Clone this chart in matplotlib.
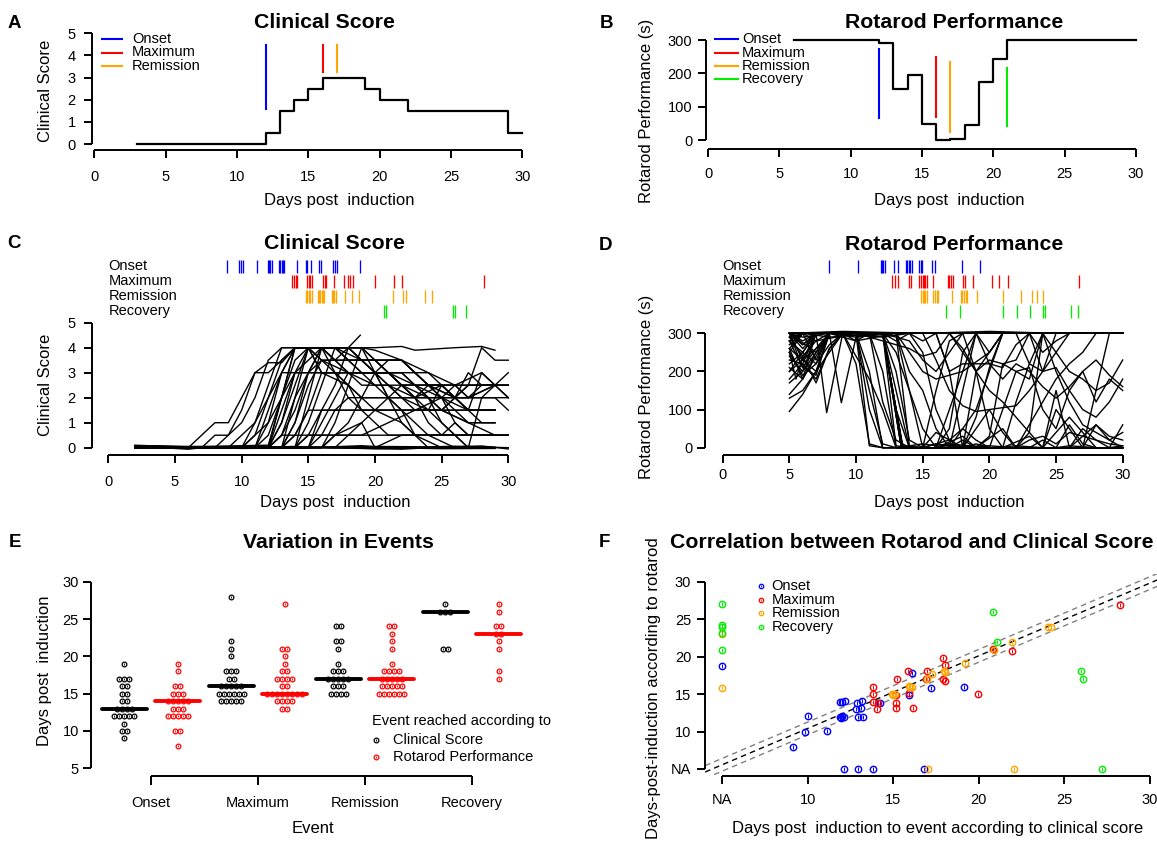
import numpy as np
import matplotlib
matplotlib.use("Agg")
import matplotlib.pyplot as plt
from matplotlib.lines import Line2D
from collections import Counter

plt.rcParams['font.family'] = ['Liberation Sans', 'DejaVu Sans']

# ======================= DATA =======================
event_names = ['Onset', 'Maximum', 'Remission', 'Recovery']
event_colors = ['#0000FF', '#FF0000', '#FFA500', '#00EE00']

# Panel A : single mouse clinical score
a_days = list(range(3, 31))
a_score = [0, 0, 0, 0, 0, 0, 0, 0, 0, 0.5, 1.5, 2, 2.5, 3, 3, 3, 2.5, 2, 2,
           1.5, 1.5, 1.5, 1.5, 1.5, 1.5, 1.5, 0.5, 0.5]
a_event_day = [12, 16, 17]
a_event_lo = [1.6, 3.24, 3.24]
a_event_hi = [4.47, 4.47, 4.47]

# Panel B : single mouse rotarod
b_days = list(range(6, 31))
b_perf = [300, 300, 300, 300, 300, 300, 292, 152, 195, 47, 0, 4, 46, 173, 242,
          300, 300, 300, 300, 300, 300, 300, 300, 300, 300]
b_event_day = [12, 16, 17, 21]
b_event_lo = [65, 70, 25, 43]
b_event_hi = [272, 248, 233, 217]

# Panel C : all mice clinical score (day, score) vertices
clin_traj = [
    [(2, .05), (6, 0), (8, 1), (9, 1), (10, 2), (11, 3), (12, 3.4), (13, 3.4), (14, 4), (19, 4), (20, 3.9), (22, 3.5), (24, 3), (26, 2.5), (28, 2.5), (30, 2.5)],
    [(2, .08), (8, 0), (9, .5), (10, 1.5), (11, 3), (12, 3), (13, 3.5), (14, 4), (17, 4), (19, 3), (21, 3), (23, 2.5), (25, 2), (27, 1.5), (29, 1.5)],
    [(2, 0), (10, 0), (11, 1), (12, 2.5), (13, 4), (20, 4), (22, 4.05), (23, 3.9), (26, 4), (28, 4.05), (29, 3.9)],
    [(2, .05), (10, 0), (11, .5), (12, 2), (13, 3.5), (14, 4), (18, 4), (18.9, 4.5)],
    [(2, .03), (11, 0), (12, 1), (13, 3), (14, 4), (16, 4), (17, 3.5), (18, 3), (21, 3), (22, 2.5), (23, 2), (25, 2), (26, 1.5), (29, 1.5)],
    [(2, 0), (11, 0), (12, .5), (13, 2), (14, 3.5), (15, 4), (17, 4), (19, 3.5), (22, 3.5), (23, 3), (24, 2.5), (26, 2.5), (28, 3), (29, 2.5)],
    [(2, .05), (12, 0), (13, 1), (14, 3), (15, 4), (16, 4), (17, 3), (19, 2), (20, 1.5), (22, 1), (23, .5), (25, 0), (29, 0)],
    [(2, 0), (12, .1), (13, 2), (14, 4), (15, 4), (16, 3), (18, 3), (22, 3), (24, 2), (25, 1.5), (27, 1), (29, .5)],
    [(2, .05), (12, 0), (13, .5), (14, 2), (15, 3), (21, 3), (22, 2.5), (30, 2.5)],
    [(2, 0), (13, 0), (14, 1), (15, 3), (16, 3.5), (19, 3.5), (20, 3), (21, 2.5), (23, 2), (27, 2), (29, 2.5), (30, 2)],
    [(2, .03), (13, 0), (14, .5), (15, 1.5), (29, 1.5)],
    [(2, 0), (12, 0), (13, .5), (30, .5)],
    [(2, .05), (14, 0), (15, 1), (16, 2.5), (17, 4), (19, 4), (20, 3.5), (21, 3), (22, 2.5), (24, 2), (25, 1), (26, .5), (27, 0), (29, 0)],
    [(2, 0), (14, 0), (15, 2), (16, 4), (18, 4), (20, 3), (21, 2), (22, 1), (23, .5), (24, 0), (29, 0)],
    [(2, .08), (13, 0), (14, .5), (15, 1.5), (16, 3), (17, 3), (18, 2), (19, 1.5), (20, 1), (21, .5), (30, .5)],
    [(2, 0), (15, 0), (16, 1), (17, 2), (18, 3), (20, 3), (21, 3.5), (22, 3.5), (23, 3), (24, 2.5), (26, 2), (27, 2.5), (30, 2.5)],
    [(2, .05), (15, 0), (16, .5), (17, 1.5), (25, 1.5), (26, 2), (27, 1.5), (29, 1.5)],
    [(2, 0), (16, 0), (17, 1), (18, 2.5), (19, 4), (20, 3.5), (21, 3), (23, 2), (24, 1), (25, .5), (29, .5)],
    [(2, .03), (14, 0), (15, .5), (19, .5), (21, 1), (23, 1.5), (25, 2), (26, 2.5), (27, 2), (28, 2.5), (30, 2.5)],
    [(2, 0), (16, 0), (17, .5), (19, 1), (20, 1.5), (21, 2), (22, 2.5), (23, 2.5), (24, 2), (25, 1.5), (27, 1), (29, 1)],
    [(2, .05), (12, 0), (13, .5), (14, 1.5), (15, 3), (16, 4), (18, 4), (19, 3.5), (22, 3.5), (23, 3), (24, 3), (25, 2.5), (26, 2.5), (27, 2), (29, 2.5), (30, 3)],
    [(2, 0), (17, 0), (18, .5), (19, 1), (20, 0), (29, 0)],
    [(2, .05), (20, 0), (22, .5), (24, .5), (26, 0), (29, 0)],
    [(2, 0), (12, 0), (13, 2), (14, 3), (15, 3), (16, 4), (17, 3.5), (22, 3.5), (23, 3), (24, 2.5), (25, 2), (26, 2), (27, 2.5), (28, 4), (29, 3.5), (30, 3.5)],
    [(2, .03), (11, 0), (12, 1.5), (13, 3), (14, 3), (15, 3.5), (16, 4), (17, 4), (18, 3.5), (19, 3), (20, 2.5), (21, 2), (22, 1.5), (23, .5), (30, .5)],
    [(2, 0), (13, 0), (14, 2), (15, 4), (16, 3.5), (17, 3), (18, 2.5), (19, 1.5), (26, 1.5), (27, 1), (29, 1)],
    [(2, .05), (12, 0), (13, 1.5), (14, 3), (23, 3), (24, 2.5), (25, 2.5), (26, 2), (27, 3), (28, 2.5), (29, 2.5), (30, 2)],
    [(2, 0), (14, 0), (15, .5), (16, 1.5), (17, 1.5), (18, 2), (22, 2), (24, 1.5), (25, 1), (26, .5), (27, 0), (28, 2), (29, 2.5)],
    [(2, .05), (10, 0), (11, .5), (12, 1), (13, 2), (14, 4), (15, 4), (16, 3.5), (18, 3), (20, 2.5), (24, 2.5), (26, 2), (27, 1.5), (29, 1.5)],
    [(2, .08), (7, 0), (8, .5), (9, .5), (10, 1), (11, 2), (12, 3.5), (13, 4), (15, 4), (16, 3), (18, 2.5), (19, 2), (21, 2), (23, 2), (25, 2.5), (26, 2), (28, 2), (30, 2)],
    [(2, 0), (13, 0), (14, 1), (15, 2.5), (16, 3.5), (17, 3.5), (18, 4), (19, 3.5), (20, 3), (21, 2.5), (22, 2), (23, 2), (24, 2.5), (25, 2), (26, 1), (27, .5), (29, .5)],
    [(2, .05), (12, 0), (13, 1), (14, 2.5), (15, 4), (16, 4), (17, 3.5), (18, 3), (19, 2.5), (21, 2.5), (22, 2), (23, 1.5), (24, 1.5), (25, 2.5), (26, 2), (27, 1.5), (28, 3), (29, 2.5)],
    [(2, 0), (15, 0), (16, 1.5), (17, 2.5), (18, 4), (19, 4), (20, 3), (21, 2), (22, 1.5), (23, 1), (24, .5), (25, .5), (26, 1), (27, .5), (30, .5)],
    [(2, .03), (9, 0), (10, .5), (11, 1), (12, 2), (13, 3), (14, 4), (17, 4), (18, 3.5), (20, 3.5), (21, 3), (22, 3), (23, 2.5), (25, 2.5), (26, 2), (29, 2), (30, 1.5)],
    [(2, 0), (16, 0), (17, .5), (18, 1), (19, 2), (20, 3), (21, 3), (22, 2.5), (23, 2), (24, 1.5), (25, 1.5), (26, 2), (27, 1.5), (28, 1), (29, 1)],
    [(2, .1), (3, .08), (5, 0), (8, .02), (12, 0), (16, 0), (20, -.04), (24, 0), (27, .05), (29, 0)],
    [(2, .05), (4, 0), (6, -.06), (7, 0), (12, .03), (18, 0), (22, 0), (26, .06), (30, 0)],
    [(2, 0), (6, .03), (10, -.03), (15, 0), (19, .08), (21, 0), (25, -.04), (29, -.03)],
    [(2, .08), (9, 0), (14, .05), (17, 0), (22, -.06), (24, 0), (28, .07), (30, -.05)],
    [(2, .03), (8, 0), (11, .04), (13, 0), (20, .05), (23, .04), (26, 0), (29, .02)],
]

# Panel D : all mice rotarod (day, seconds) vertices
rot_traj = [
    [(5, 290), (6, 300), (7, 280), (10, 300), (11, 5), (12, 0), (20, 0), (22, 5), (24, 0), (30, 0)],
    [(5, 300), (6, 260), (7, 300), (10, 300), (11, 150), (12, 10), (13, 0), (16, 0), (17, 10), (18, 0), (29, 0), (30, 5)],
    [(5, 240), (6, 200), (7, 300), (13, 300), (14, 5), (15, 0), (16, 40), (17, 20), (18, 0), (25, 0), (26, 5), (28, 0), (30, 0)],
    [(5, 270), (6, 300), (7, 230), (8, 300), (12, 300), (13, 5), (14, 0), (23, 0), (24, 20), (25, 0), (30, 0)],
    [(5, 300), (12, 300), (13.5, 0), (16, 0), (17, 50), (18, 250), (19, 300), (30, 300)],
    [(5, 280), (6, 300), (8, 290), (12, 300), (13.5, 0), (18, 0), (19, 80), (20, 210), (21, 300), (30, 300)],
    [(5, 300), (12, 300), (13.5, 5), (15, 0), (19, 0), (20, 30), (21, 220), (22, 230), (23, 300), (30, 300)],
    [(5, 220), (6, 250), (7, 300), (12, 300), (13.5, 0), (22, 0), (23, 40), (24, 300), (30, 300)],
    [(5, 300), (6, 270), (7, 300), (12, 300), (14, 0), (24, 0), (25, 150), (26, 0), (30, 0)],
    [(5, 95), (6, 140), (7, 200), (8, 300), (12, 300), (13, 250), (14, 150), (15, 50), (16, 0), (20, 5), (22, 0), (30, 0)],
    [(5, 200), (6, 230), (7, 260), (8, 300), (10, 300), (12, 280), (14, 260), (15, 240), (16, 250), (17, 300), (30, 300)],
    [(5, 300), (6, 280), (7, 300), (7.8, 92), (9, 300), (30, 300)],
    [(5, 250), (6, 190), (7, 220), (8, 300), (8.9, 118), (10, 290), (13, 300), (14, 200), (15, 150), (16, 50), (17, 0), (19, 0), (21, 50), (22, 0), (25, 0), (26, 60), (27, 10), (28, 0), (30, 0)],
    [(5, 170), (6, 200), (7, 250), (8, 300), (10, 280), (11, 300), (15, 300), (16, 230), (17, 150), (18, 110), (19, 95), (20, 100), (22, 110), (23, 150), (24, 200), (25, 300), (30, 300)],
    [(5, 300), (16, 300), (17, 200), (18, 220), (20, 220), (21, 210), (22, 270), (23, 300), (24, 200), (25, 210), (26, 150), (27, 100), (28, 80), (29, 120), (30, 180)],
    [(5, 290), (6, 240), (7, 280), (8, 300), (14, 300), (15, 250), (16, 100), (17, 20), (18, 0), (20, 0), (21, 100), (22, 200), (23, 180), (24, 300), (30, 300)],
    [(5, 300), (12, 300), (13, 200), (14, 20), (15, 0), (22, 0), (23, 20), (24, 30), (25, 10), (26, 40), (27, 30), (28, 20), (29, 10), (30, 5)],
    [(5, 260), (6, 300), (11, 300), (12, 200), (13, 0), (15, 10), (17, 0), (19, 100), (20, 200), (21, 300), (30, 300)],
    [(5, 230), (6, 220), (7, 180), (8, 260), (9, 300), (17, 300), (18, 260), (19, 200), (20, 150), (21, 120), (22, 80), (23, 40), (24, 0), (30, 0)],
    [(5, 300), (6, 290), (8, 300), (12, 290), (14, 300), (24, 300), (25, 250), (26, 200), (27, 180), (28, 150), (29, 170), (30, 230)],
    [(5, 140), (6, 180), (7, 250), (8, 300), (12, 300), (13, 100), (14, 0), (21, 0), (22, 120), (23, 220), (24, 300), (25, 200), (26, 120), (27, 60), (28, 40), (29, 20), (30, 40)],
    [(5, 300), (16, 300), (17, 200), (18, 0), (19, 200), (20, 250), (21, 300), (23, 300), (24, 250), (25, 280), (26, 300), (30, 300)],
    [(5, 130), (6, 150), (7, 200), (8, 300), (9, 300), (10, 220), (11, 10), (12, 0), (15, 0), (16, 10), (18, 0), (20, 100), (21, 40), (22, 0), (24, 0), (25, 100), (26, 50), (27, 0), (30, 0)],
    [(5, 260), (6, 230), (7, 300), (12, 300), (13, 280), (14, 300), (18, 300), (19, 200), (20, 50), (21, 0), (26, 0), (27, 50), (28, 20), (29, 0), (30, 60)],
    [(5, 300), (6, 270), (7, 300), (10, 300), (11, 200), (12, 0), (17, 0), (18, 20), (19, 0), (27, 0), (28, 150), (29, 300), (30, 300)],
    [(5, 250), (6, 300), (12, 300), (13.5, 0), (15, 0), (16, 150), (17, 280), (18, 300), (30, 300)],
    [(5, 300), (9, 305), (15, 300), (20, 305), (25, 300), (30, 300)],
    [(5, 210), (6, 180), (7, 240), (8, 300), (10, 290), (12, 300), (17, 300), (18, 250), (19, 200), (20, 230), (21, 220), (22, 200), (23, 210), (24, 100), (25, 50), (26, 150), (27, 200), (28, 120), (29, 180), (30, 150)],
    [(5, 300), (12, 300), (13.4, 0), (18, 0), (19, 10), (20, 0), (30, 0)],
    [(5, 280), (6, 250), (7, 300), (12, 300), (13.4, 0), (16, 0), (17, 100), (18, 200), (19, 300), (30, 300)],
    [(5, 300), (6, 210), (7, 190), (8, 300), (13, 300), (14, 250), (15, 200), (16, 180), (18, 200), (20, 250), (21, 300), (30, 300)],
    [(5, 180), (6, 220), (7, 300), (11, 300), (12, 120), (13, 20), (14, 0), (21, 0), (23, 30), (24, 0), (27, 0), (28, 60), (29, 20), (30, 0)],
    [(5, 200), (6, 250), (7, 220), (8, 270), (9, 300), (10, 240), (11, 180), (12, 100), (13, 0), (16, 0), (18, 30), (19, 0), (22, 0), (23, 60), (24, 120), (25, 180), (26, 220), (27, 250), (28, 300), (30, 300)],
    [(5, 250), (5.5, 180), (6, 240), (7, 170), (8, 260), (9, 300), (10, 280), (13, 300), (14, 150), (15, 0), (17, 0), (18, 150), (19, 300), (20, 250), (21, 300), (30, 300)],
    [(5, 300), (6, 230), (7, 200), (8, 250), (9, 300), (14, 300), (15, 280), (16, 300), (19, 300), (20, 220), (21, 180), (22, 220), (23, 200), (24, 160), (25, 130), (26, 160), (27, 200), (28, 230), (29, 190), (30, 160)],
    [(5, 280), (6, 210), (7, 260), (8, 300), (10, 300), (11, 100), (12, 0), (16, 0), (17, 10), (20, 0), (26, 0), (27, 30), (28, 60), (29, 30), (30, 20)],
    [(5, 300), (7, 250), (8, 300), (12, 300), (13.4, 0), (15, 0), (17, 20), (18, 50), (19, 20), (20, 0), (24, 0), (25, 40), (26, 80), (27, 40), (28, 0), (30, 0)],
    [(5, 260), (6, 180), (7, 300), (12, 300), (14, 280), (15, 230), (16, 200), (17, 250), (18, 300), (22, 300), (23, 220), (24, 200), (26, 300), (30, 300)],
]

# Rug positions (days) per event
rugC_onset = [8.88, 9.83, 9.95, 10.13, 11.15, 11.96, 12.06, 12.16, 12.26, 12.81, 12.91, 13.0, 13.13, 13.21, 14.18, 14.81, 14.93, 15.18, 15.83, 15.95, 16.88, 17.0, 17.18, 18.88]
rugC_max = [13.8, 13.93, 14.06, 14.18, 14.93, 15.03, 15.13, 15.26, 16.13, 16.26, 16.33, 16.95, 17.7, 18.0, 18.15, 18.33, 20.0, 21.43, 22.06, 28.2]
rugC_rem = [14.83, 14.93, 15.03, 15.13, 15.26, 15.71, 15.81, 15.9, 16.01, 16.13, 16.2, 16.76, 16.86, 16.95, 17.06, 17.76, 18.26, 18.83, 21.34, 22.13, 22.31, 23.76, 24.26]
rugC_rec = [20.68, 20.81, 25.88, 26.01, 26.83]
rugD_onset = [8.0, 10.13, 11.85, 11.95, 12.05, 12.15, 12.83, 13.17, 13.75, 13.85, 13.95, 14.05, 14.18, 14.75, 14.85, 14.95, 15.72, 15.93, 17.95, 19.28]
rugD_max = [12.72, 12.93, 13.13, 13.98, 14.1, 14.75, 14.9, 15.0, 15.1, 15.2, 15.3, 15.8, 16.88, 17.0, 17.13, 17.25, 18.05, 18.2, 18.8, 20.18, 20.75, 21.38, 26.73]
rugD_rem = [14.9, 15.0, 15.1, 15.2, 15.3, 15.8, 15.93, 16.05, 16.17, 17.22, 17.85, 17.97, 18.1, 18.23, 18.35, 19.05, 21.05, 22.38, 23.18, 23.56, 24.05]
rugD_rec = [16.73, 17.8, 21.05, 22.06, 23.05, 24.0, 24.16, 26.1, 26.63]

# Panel E : event days per method
e_clin_onset = [9, 10, 10, 11, 12, 12, 12, 12, 12, 13, 13, 13, 13, 14, 14, 15, 15, 16, 16, 17, 17, 17, 19]
e_rot_onset = [8, 10, 10, 12, 12, 12, 12, 12, 13, 13, 13, 14, 14, 14, 14, 14, 15, 15, 15, 16, 16, 18, 19]
e_clin_max = [14, 14, 14, 14, 14, 15, 15, 15, 15, 15, 15, 16, 16, 16, 16, 16, 17, 17, 18, 18, 18, 20, 21, 22, 28]
e_rot_max = [13, 13, 14, 14, 14, 14, 15, 15, 15, 15, 15, 15, 15, 15, 16, 16, 17, 17, 17, 17, 18, 18, 19, 20, 21, 21, 27]
e_clin_rem = [15, 15, 15, 15, 16, 16, 16, 17, 17, 17, 17, 17, 18, 18, 18, 19, 21, 22, 22, 24, 24]
e_rot_rem = [15, 15, 15, 15, 15, 15, 16, 16, 16, 16, 16, 17, 17, 17, 17, 17, 18, 18, 18, 18, 19, 21, 22, 23, 24, 24]
e_clin_rec = [21, 21, 26, 26, 26, 27]
e_rot_rec = [17, 18, 21, 22, 23, 23, 24, 24, 26, 27]

# Panel F : clinical-score day vs rotarod day (nan = NA)
NA = np.nan
f_onset_clin = [9.15, 9.84, 10.0, 11.1, 11.88, 11.98, 12.18, 11.9, 12.0, 12.1, 11.95, 12.86, 12.84, 12.94, 13.15, 13.09, 13.22, 14.22, 15.92, 16.11, 17.19, 19.1, NA, 12.12, 12.92, 13.81, 16.81]
f_onset_rot = [8.0, 9.92, 12.06, 10.05, 13.94, 13.9, 14.12, 12.0, 12.1, 11.95, 11.8, 13.8, 13.06, 11.93, 14.03, 13.13, 11.93, 13.86, 14.83, 17.82, 15.86, 15.95, 18.8, NA, NA, NA, NA]
f_max_clin = [13.83, 13.8, 13.83, 14.12, 14.03, 15.16, 15.16, 15.16, 15.2, 15.84, 15.92, 16.13, 16.99, 16.91, 17.92, 18.02, 17.92, 18.02, 19.97, 20.85, 21.92, 28.22]
f_max_rot = [15.95, 14.97, 13.94, 13.8, 13.06, 14.83, 13.86, 13.13, 16.98, 18.09, 15.14, 13.13, 18.09, 16.98, 19.83, 18.85, 17.07, 16.71, 15.06, 20.99, 20.76, 26.88]
f_rem_clin = [14.92, 15.0, 15.1, 15.92, 16.1, 16.0, 17.25, 16.95, 17.93, 18.02, 18.0, 19.19, 20.9, 21.96, 24.03, 24.2, NA, NA, 17.05, 22.06]
f_rem_rot = [15.0, 14.9, 15.0, 16.1, 15.95, 16.0, 17.73, 16.98, 18.1, 17.96, 18.0, 19.16, 20.9, 21.97, 23.9, 24.0, 23.0, 15.8, NA, NA]
f_rec_clin = [20.81, 21.08, 25.96, 26.11, NA, NA, NA, NA, NA, 27.2]
f_rec_rot = [25.98, 21.89, 18.09, 17.02, 27.0, 24.2, 23.9, 23.2, 20.9, NA]
f_na_pos = 5
f_fit_slope = 0.97
f_fit_intercept = 0.72
f_fit_band = 0.85

# ======================= FIGURE =======================
W, H = 1157, 841
fig = plt.figure(figsize=(W / 100, H / 100), dpi=100)

TICK = 10.5
LAB = 12
TIT = 15.3


def px_axes(xd, xp, yd, yp, xlim, ylim):
    sx = (xp[1] - xp[0]) / (xd[1] - xd[0])
    sy = (yp[1] - yp[0]) / (yd[1] - yd[0])
    l = xp[0] + (xlim[0] - xd[0]) * sx
    r = xp[0] + (xlim[1] - xd[0]) * sx
    t = yp[0] + (ylim[1] - yd[0]) * sy
    b = yp[0] + (ylim[0] - yd[0]) * sy
    ax = fig.add_axes([l / W, 1 - b / H, (r - l) / W, (b - t) / H])
    ax.set_xlim(xlim)
    ax.set_ylim(ylim)
    ax.patch.set_alpha(0)
    return ax


def r_style(ax, left_at, bottom_at, xb, yb, xt, yt, xtl=None, ytl=None,
            xpad=7, ypad=5, xlen=5.5, ylen=5.8):
    for s in ['top', 'right']:
        ax.spines[s].set_visible(False)
    ax.spines['left'].set_position(('data', left_at))
    ax.spines['bottom'].set_position(('data', bottom_at))
    ax.spines['left'].set_bounds(*yb)
    ax.spines['bottom'].set_bounds(*xb)
    for s in ['left', 'bottom']:
        ax.spines[s].set_linewidth(1.4)
        ax.spines[s].set_capstyle('butt')
    ax.set_xticks(xt)
    ax.set_yticks(yt)
    if xtl is not None:
        ax.set_xticklabels(xtl)
    if ytl is not None:
        ax.set_yticklabels(ytl)
    ax.tick_params(axis='x', direction='out', length=xlen, width=1.4, pad=xpad, labelsize=TICK)
    ax.tick_params(axis='y', direction='out', length=ylen, width=1.4, pad=ypad, labelsize=TICK)


def ftext(x, y, s, **kw):
    kw.setdefault('ha', 'center')
    kw.setdefault('va', 'center')
    fig.text(x / W, 1 - y / H, s, **kw)


def fline(x0, x1, y, **kw):
    fig.add_artist(Line2D([x0 / W, x1 / W], [1 - y / H, 1 - y / H],
                          transform=fig.transFigure, **kw))


def fmark(x, y, color, ms):
    fig.add_artist(Line2D([x / W], [1 - y / H], transform=fig.transFigure, marker='o',
                          ms=ms, mfc='none', mec=color, mew=0.9, ls='none'))
    fig.add_artist(Line2D([x / W], [1 - y / H], transform=fig.transFigure, marker='|',
                          ms=ms * 0.6, mec=color, mew=0.6, ls='none'))


# ---------------- Panel A ----------------
axA = px_axes((0, 30), (94.3, 522.4), (0, 5), (144, 33.3), (-1.5, 31), (-0.6, 5.3))
axA.plot(a_days, a_score, drawstyle='steps-post', color='black', lw=1.6)
for d, lo, hi, c in zip(a_event_day, a_event_lo, a_event_hi, event_colors):
    axA.plot([d, d], [lo, hi], color=c, lw=1.5)
r_style(axA, -0.18, -0.27, (0, 30), (0, 5), range(0, 31, 5), range(0, 6),
        xpad=8.8, ypad=5.7)
ftext(324.6, 23, 'Clinical Score', fontsize=TIT, fontweight='bold')
ftext(14, 23, 'A', fontsize=13.5, fontweight='bold')
ftext(339, 201, 'Days post  induction', fontsize=LAB)
ftext(46, 91, 'Clinical Score', fontsize=LAB, rotation=90)
for i, (nm, c) in enumerate(zip(event_names[:3], event_colors[:3])):
    yy = 39.3 + 13.2 * i
    fline(101.7, 122, yy, color=c, lw=1.5)
    ftext(132, yy, nm, fontsize=TICK, ha='left')

# ---------------- Panel B ----------------
axB = px_axes((0, 30), (708.1, 1135.8), (0, 300), (140, 40), (-1.5, 31), (-40, 315))
axB.plot(b_days, b_perf, drawstyle='steps-post', color='black', lw=1.6)
for d, lo, hi, c in zip(b_event_day, b_event_lo, b_event_hi, event_colors):
    axB.plot([d, d], [lo, hi], color=c, lw=1.5)
r_style(axB, -0.13, -27.9, (0, 30), (0, 300), range(0, 31, 5), range(0, 301, 100),
        xpad=6.9, ypad=4.2)
ftext(954.3, 23, 'Rotarod Performance', fontsize=TIT, fontweight='bold')
ftext(606.7, 23, 'B', fontsize=13.5, fontweight='bold')
ftext(949.3, 201, 'Days post  induction', fontsize=LAB)
ftext(646.2, 110.8, 'Rotarod Performance (s)', fontsize=LAB, rotation=90)
for i, (nm, c) in enumerate(zip(event_names, event_colors)):
    yy = 39.3 + 13.3 * i
    fline(715.4, 738.3, yy, color=c, lw=1.5)
    ftext(742, yy, nm, fontsize=TICK, ha='left')


# ---------------- rug helper ----------------
def rug(xp, rugs, label_x):
    ax = px_axes((0, 30), xp, (0, -3), (266.7, 311.7), (-1.5, 31), (-3.7, 0.7))
    ax.axis('off')
    for i, (vals, c) in enumerate(zip(rugs, event_colors)):
        ax.vlines(vals, -i - 0.45, -i + 0.45, color=c, lw=0.95)
    for i, nm in enumerate(event_names):
        ftext(label_x, 266 + 15 * i, nm, fontsize=TICK, ha='left')


# ---------------- Panel C ----------------
axC = px_axes((0, 30), (108.3, 508.3), (0, 5), (447.7, 322.7), (-1.5, 31), (-0.45, 5.1))
for tr in clin_traj:
    d = [p[0] for p in tr]
    v = [p[1] for p in tr]
    axC.plot(d, v, color='black', lw=1.0)
r_style(axC, -1.245, -0.292, (0, 30), (0, 5), range(0, 31, 5), range(0, 6),
        xpad=9.1, ypad=5.7)
rug((108.3, 508.3), [rugC_onset, rugC_max, rugC_rem, rugC_rec], 108.5)
ftext(334, 244, 'Clinical Score', fontsize=TIT, fontweight='bold')
ftext(13.5, 244, 'C', fontsize=13.5, fontweight='bold')
ftext(335.4, 502.7, 'Days post  induction', fontsize=LAB)
ftext(45.1, 384.7, 'Clinical Score', fontsize=LAB, rotation=90)

# ---------------- Panel D ----------------
axD = px_axes((0, 30), (722.7, 1122.7), (0, 300), (447.7, 333.3), (-1.6, 31), (-25, 312))
for tr in rot_traj:
    d = [p[0] for p in tr]
    v = [p[1] for p in tr]
    axD.plot(d, v, color='black', lw=1.0)
r_style(axD, -1.365, -19.9, (0, 30), (0, 300), range(0, 31, 5), range(0, 301, 100),
        xpad=3.7, ypad=3.0)
rug((722.7, 1122.7), [rugD_onset, rugD_max, rugD_rem, rugD_rec], 722.7)
ftext(954.3, 245, 'Rotarod Performance', fontsize=TIT, fontweight='bold')
ftext(605.8, 245, 'D', fontsize=13.5, fontweight='bold')
ftext(949, 502.7, 'Days post  induction', fontsize=LAB)
ftext(646.2, 387, 'Rotarod Performance (s)', fontsize=LAB, rotation=90)

# ---------------- Panel E ----------------
axE = px_axes((0, 3), (151, 472.1), (5, 30), (768.3, 581.7), (-0.6, 3.6), (3.5, 31))
e_groups = [(e_clin_onset, e_rot_onset), (e_clin_max, e_rot_max),
            (e_clin_rem, e_rot_rem), (e_clin_rec, e_rot_rec)]
spacing = 5.0 / 107.03
for gi, (cl, ro) in enumerate(e_groups):
    for vals, off, col in [(cl, -0.25, 'black'), (ro, 0.25, '#FF0000')]:
        cen = gi + off
        xs, ys = [], []
        for v, n in sorted(Counter(vals).items()):
            for k in range(n):
                xs.append(cen + (k - (n - 1) / 2) * spacing)
                ys.append(v)
        axE.plot(xs, ys, ls='none', marker='o', ms=3.4, mfc='none', mec=col, mew=0.9)
        axE.plot(xs, ys, ls='none', marker='|', ms=2.0, mec=col, mew=0.6)
        med = np.median(vals)
        axE.plot([cen - 0.211, cen + 0.211], [med, med], color=col, lw=2.8,
                 solid_capstyle='round', zorder=5)
r_style(axE, -0.564, 3.97, (0, 3), (5, 30), range(4), range(5, 31, 5),
        xtl=event_names[:4], xpad=8.0, ypad=2.7, xlen=6.5)
ftext(338, 542.7, 'Variation in Events', fontsize=TIT, fontweight='bold')
ftext(14.8, 542.7, 'E', fontsize=13.5, fontweight='bold')
ftext(312.6, 828.3, 'Event', fontsize=LAB)
ftext(44.4, 670.8, 'Days post  induction', fontsize=LAB, rotation=90)
ftext(371.8, 721, 'Event reached according to', fontsize=TICK, ha='left')
fmark(375.5, 740, 'black', 3.4)
ftext(392.9, 740, 'Clinical Score', fontsize=TICK, ha='left')
fmark(375.5, 757.3, '#FF0000', 3.4)
ftext(392.9, 757.3, 'Rotarod Performance', fontsize=TICK, ha='left')

# ---------------- Panel F ----------------
axF = px_axes((5, 30), (722.3, 1150), (5, 30), (769, 581.7), (4, 31), (4, 31))
xx = np.array([4, 31])
axF.plot(xx, f_fit_slope * xx + f_fit_intercept + f_fit_band, color='#808080', lw=1.0, ls=(0, (4, 3)))
axF.plot(xx, f_fit_slope * xx + f_fit_intercept - f_fit_band, color='#808080', lw=1.0, ls=(0, (4, 3)))
axF.plot(xx, f_fit_slope * xx + f_fit_intercept, color='black', lw=1.0, ls=(0, (4, 3)))
f_sets = [(f_onset_clin, f_onset_rot), (f_max_clin, f_max_rot),
          (f_rem_clin, f_rem_rot), (f_rec_clin, f_rec_rot)]
for (cx, ry), col in zip(f_sets, event_colors):
    cx = np.array(cx, dtype=float)
    ry = np.array(ry, dtype=float)
    cx = np.where(np.isnan(cx), f_na_pos, cx)
    ry = np.where(np.isnan(ry), f_na_pos, ry)
    axF.plot(cx, ry, ls='none', marker='o', ms=4.6, mfc='none', mec=col, mew=1.0, clip_on=False)
    axF.plot(cx, ry, ls='none', marker='|', ms=2.8, mec=col, mew=0.7, clip_on=False)
r_style(axF, 3.99, 4.07, (5, 30), (5, 30), range(5, 31, 5), range(5, 31, 5),
        xtl=['NA', '10', '15', '20', '25', '30'], ytl=['NA', '10', '15', '20', '25', '30'],
        xpad=6.8, ypad=4.2)
ftext(911.6, 542.7, 'Correlation between Rotarod and Clinical Score', fontsize=TIT, fontweight='bold')
ftext(604, 542.7, 'F', fontsize=13.5, fontweight='bold')
ftext(938, 828.3, 'Days post  induction to event according to clinical score', fontsize=LAB)
ftext(653.6, 688.3, 'Days-post-induction according to rotarod', fontsize=LAB, rotation=90)
for i, (nm, c) in enumerate(zip(event_names, event_colors)):
    yy = 586 + 13.5 * i
    fmark(761, yy, c, 3.2)
    ftext(771.7, yy, nm, fontsize=TICK, ha='left')

fig.savefig('out.png', dpi=100)
